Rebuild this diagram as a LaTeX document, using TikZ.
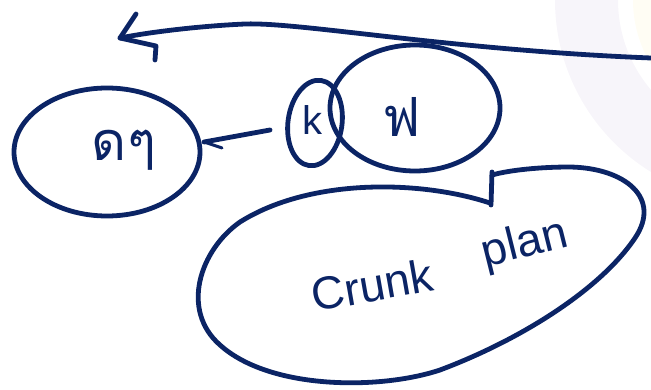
\documentclass[tikz,border=0pt]{standalone}
\usepackage{fontspec}
\usetikzlibrary{shapes.geometric}
\newfontfamily\thaifont[Script=Thai]{Loma}
\newfontfamily\handfont{Liberation Sans}
\definecolor{ink}{HTML}{0B2465}
\definecolor{faint}{HTML}{F7F5FA}
\definecolor{cream}{HTML}{FFFDF4}
\tikzset{
  pen/.style={draw=ink, line width=4.8pt, line cap=round, line join=round},
  thinpen/.style={draw=ink, line width=3pt, line cap=round, line join=round},
  lbl/.style={text=ink, inner sep=0pt}
}
\begin{document}
\begin{tikzpicture}[x=1pt,y=-1pt]
\useasboundingbox (0,0) rectangle (651,390);
% faint background shapes
\begin{scope}
\clip (0,0) rectangle (651,390);
\fill[faint, even odd rule] (757,0) circle[radius=202] (757,0) circle[radius=139];
\fill[cream] (757,0) circle[radius=124];
\end{scope}
% nodes
\node[pen, ellipse, minimum width=186pt, minimum height=128pt] (left) at (107,152) {};
\node[pen, ellipse, minimum width=170pt, minimum height=126pt] (mid) at (415,108) {};
\node[pen, ellipse, minimum width=54pt, minimum height=86pt, rotate=-8] (small) at (315,123) {};
\node[lbl, font=\thaifont\fontsize{54}{54}\selectfont] (ltext) at (124,150) {ดๆ};
\node[lbl, font=\thaifont\fontsize{54}{54}\selectfont] (mtext) at (402,117) {ฟ};
\node[lbl, font=\handfont\fontsize{40}{40}\selectfont] (ktext) at (312,120) {k};
% top arrow
\coordinate (tstart) at (651,58);
\coordinate (ttip) at (120,38);
\draw[pen] (tstart) .. controls (450,50) and (300,22) .. (245,24) .. controls (200,26) and (150,32) .. (ttip);
\draw[pen] (136,14) -- (ttip) -- (156,46) -- (155,60);
% arrow small -> left
\coordinate (astart) at (270,130);
\coordinate (atip) at (204,142);
\draw[pen] (astart) -- (atip);
\draw[thinpen] (atip) -- (222,148);
% bottom blob
\draw[pen] (490,203) .. controls (420,180) and (310,178) .. (240,222)
  .. controls (200,250) and (180,310) .. (220,345)
  .. controls (270,390) and (380,390) .. (440,370)
  .. controls (520,340) and (600,290) .. (635,238)
  .. controls (662,198) and (625,168) .. (570,167)
  .. controls (540,167) and (510,170) .. (492,175);
\draw[pen] (492,172) -- (491,205);
\node[lbl, font=\handfont\fontsize{46}{46}\selectfont, rotate=10] (btext1) at (372,285) {Crunk};
\node[lbl, font=\handfont\fontsize{46}{46}\selectfont, rotate=14] (btext2) at (525,245) {plan};
\end{tikzpicture}
\end{document}
